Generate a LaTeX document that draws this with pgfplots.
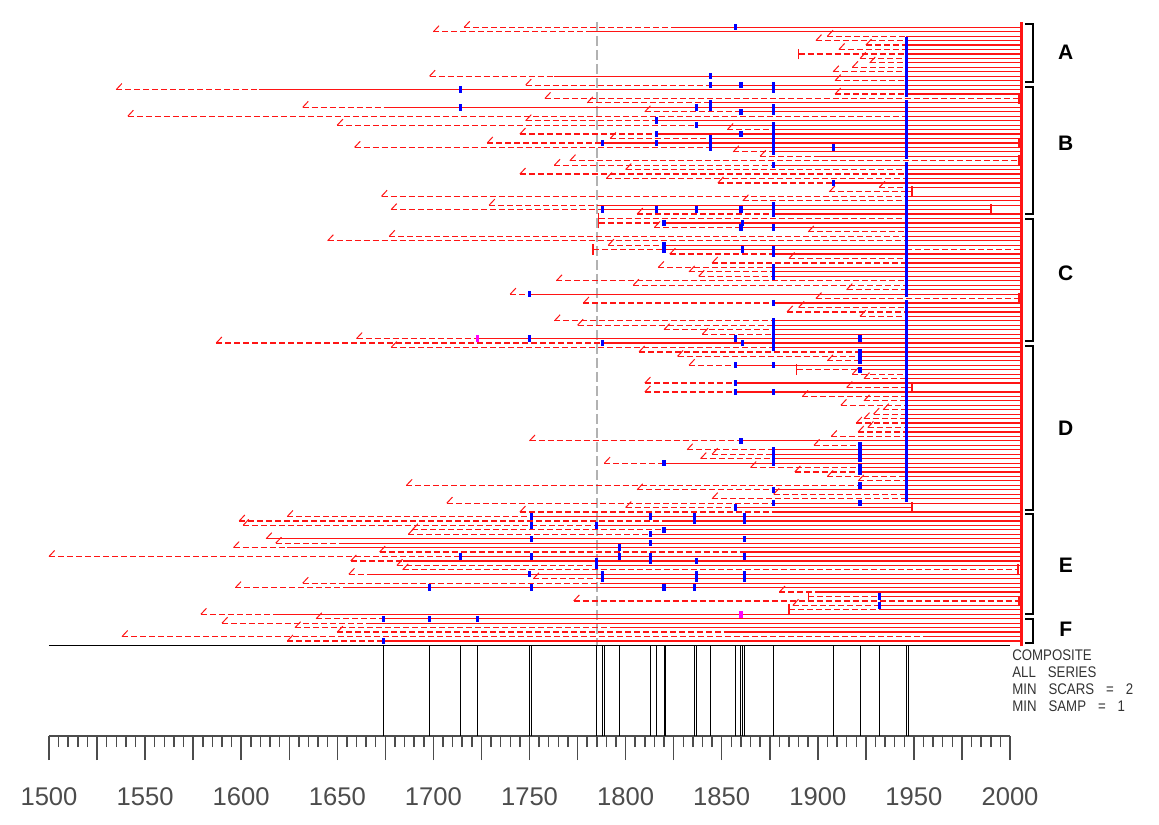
\documentclass[border=0pt]{standalone}
\usepackage{pgfplots}
\pgfplotsset{compat=1.18}
\usepackage{pgfplotstable}
\usepackage{graphicx}
\usepackage{fontspec}
\setmainfont{Liberation Sans}

\pgfdeclareplotmark{scar}{\pgfpathrectangle{\pgfpoint{-0.8pt}{-1.6pt}}{\pgfpoint{1.6pt}{3.2pt}}\pgfusepathqfill}
\pgfdeclareplotmark{innerring}{\pgfpathmoveto{\pgfpoint{0pt}{0pt}}\pgfpathlineto{\pgfpoint{2.8pt}{3pt}}\pgfusepathqstroke}
\pgfdeclareplotmark{vtick}{\pgfpathmoveto{\pgfpoint{0pt}{-2.7pt}}\pgfpathlineto{\pgfpoint{0pt}{2.7pt}}\pgfusepathqstroke}

\newcommand\ry{-(27.3+(\thisrow{r}-1)*4.447)}

\pgfplotstableread{
r s d e p b
1 1716 1826 2006 0 1
2 1700 1780 2006 0 1
3 1905 1946 2006 0 1
4 1899 1946 2006 0 1
5 1925 1946 2006 0 1
6 1911 1946 2006 0 1
7 1890 1946 2006 1 1
8 1922 1946 2006 0 1
9 1927 1946 2006 0 1
10 1918 1946 2006 0 1
11 1908 1946 2006 0 1
12 1698 1763 2006 0 1
13 1909 1946 2006 0 1
14 1748 1844 2006 0 1
15 1535 1609 2006 0 1
16 1909 1946 2006 0 1
17 1758 2005 2005 0 1
18 1780 1844 2006 0 1
19 1632 1677 2006 0 1
20 1810 1860 2006 0 1
21 1541 1946 2006 0 1
22 1748 1816 2006 0 1
23 1650 1837 2006 0 1
24 1853 1877 2006 0 1
25 1745 1816 2006 0 1
26 1792 1844 2006 0 1
27 1728 1788 2005 0 1
28 1659 1844 2006 0 1
29 1856 1877 2006 0 1
30 1870 1900 2006 0 1
31 1771 2005 2005 0 1
32 1763 1877 2006 0 1
33 1800 1946 2006 0 1
34 1745 1946 2006 0 1
35 1790 1946 2006 0 1
36 1848 1908 2006 0 1
37 1932 1946 2006 0 1
38 1906 1946 1949 0 1
39 1673 1946 2006 0 1
40 1861 1946 2006 0 1
41 1729 1785 2006 0 1
42 1678 1788 1990 0 1
43 1806 1877 2006 0 1
44 1786 1946 2006 1 1
45 1786 1820 2006 1 1
46 1815 1860 2006 0 1
47 1895 1946 2006 0 1
48 1677 1946 2006 0 1
49 1645 1946 2006 0 1
50 1791 1820 2006 0 1
51 1783 1820 1946 1 0
52 1823 1877 2006 0 1
53 1885 1946 2006 0 1
54 1845 1946 2006 0 1
55 1817 1877 2006 0 1
56 1833 1877 2006 0 1
57 1838 1877 2006 0 1
58 1764 1946 2006 0 1
59 1804 1946 2006 0 1
60 1915 1946 2006 0 1
61 1740 1750 2006 0 1
62 1899 2005 2005 0 1
63 1778 1877 2006 0 1
64 1890 1946 2006 0 1
65 1884 1946 2006 0 1
66 1922 1946 2006 0 1
67 1763 1877 2006 0 1
68 1775 1877 2006 0 1
69 1820 1877 2006 0 1
70 1840 1877 2006 0 1
71 1660 1723 2006 0 1
72 1587 1788 2006 0 1
73 1678 1877 2006 0 1
74 1807 1922 2006 0 1
75 1827 1922 2006 0 1
76 1905 1922 2006 0 1
77 1833 1857 2006 0 1
78 1889 1922 2006 1 1
79 1918 1946 2006 0 1
80 1924 1946 2006 0 1
81 1810 1857 2006 0 1
82 1915 1946 1949 0 1
83 1810 1857 2006 0 1
84 1892 1946 2006 0 1
85 1924 1946 2006 0 1
86 1912 1946 2006 0 1
87 1934 1946 2006 0 1
88 1929 1946 2006 0 1
89 1924 1946 2006 0 1
90 1920 1946 2006 0 1
91 1926 1946 2006 0 1
92 1921 1946 2006 0 1
93 1907 1946 2006 0 1
94 1750 1860 2006 0 1
95 1898 1922 2006 0 1
96 1832 1877 2006 0 1
97 1845 1877 2006 0 1
98 1839 1877 2006 0 1
99 1789 1820 2006 0 1
100 1865 1922 2006 0 1
101 1888 1922 2006 0 1
102 1905 1946 2006 0 1
103 1921 1946 2006 0 1
104 1686 1922 2006 0 1
105 1806 1877 2006 0 1
106 1877 1946 2006 0 1
107 1845 1946 2006 0 1
108 1707 1877 2006 0 1
109 1800 1857 1949 0 1
110 1745 1877 2006 0 1
111 1624 1751 2006 0 1
112 1599 1821 2006 0 1
113 1601 1785 2006 0 1
114 1689 1820 2006 0 1
115 1687 1813 2006 0 1
116 1613 1613 2006 0 1
117 1618 1654 2006 0 1
118 1596 1624 2006 0 1
119 1672 1862 2006 0 1
120 1500 1714 2006 0 1
121 1657 1684 2006 0 1
122 1681 1785 2006 0 1
123 1684 2004 2004 0 1
124 1656 1666 2006 0 1
125 1752 1788 2006 0 1
126 1632 1788 2006 0 1
127 1597 1653 2006 0 1
128 1880 1900 2006 0 1
129 1895 1932 2006 1 1
130 1773 2005 2005 0 1
131 1887 1932 2006 0 1
132 1885 1932 2006 1 1
133 1579 1617 2006 0 1
134 1639 1674 2006 0 1
135 1590 1665 2006 0 1
136 1628 1792 2006 0 1
137 1650 1851 2006 0 1
138 1538 1955 2006 0 1
139 1624 1674 2006 0 1
}\rows

\pgfplotstableread{
r s d
51 1946 2005
}\extra

\pgfplotstableread[row sep=\\]{
x r\\
1857 1\\ 1946 4\\ 1946 5\\ 1946 6\\ 1946 7\\ 1946 8\\ 1946 9\\ 1946 10\\ 1946 11\\ 1946 12\\ 1946 13\\ 1946 14\\ 1946 15\\ 1946 16\\
1844 12\\ 1844 14\\ 1860 14\\ 1877 14\\ 1714 15\\ 1877 15\\
1844 18\\ 1946 18\\ 1714 19\\ 1837 19\\ 1844 19\\ 1877 19\\ 1946 19\\
1860 20\\ 1877 20\\ 1946 20\\ 1946 21\\ 1816 22\\ 1946 22\\
1837 23\\ 1877 23\\ 1946 23\\ 1877 24\\ 1946 24\\
1816 25\\ 1860 25\\ 1877 25\\ 1946 25\\ 1844 26\\ 1877 26\\ 1946 26\\
1788 27\\ 1816 27\\ 1844 27\\ 1877 27\\ 1946 27\\
1844 28\\ 1877 28\\ 1908 28\\ 1946 28\\ 1877 29\\ 1946 29\\ 1946 30\\
1877 32\\ 1946 32\\ 1946 33\\ 1946 34\\ 1946 35\\ 1908 36\\ 1946 36\\
1946 37\\ 1946 38\\ 1946 39\\ 1946 40\\ 1877 41\\ 1946 41\\
1788 42\\ 1816 42\\ 1837 42\\ 1860 42\\ 1877 42\\ 1946 42\\
1877 43\\ 1946 43\\ 1946 44\\ 1820 45\\ 1861 45\\ 1946 45\\
1860 46\\ 1877 46\\ 1946 46\\ 1946 47\\ 1946 48\\ 1946 49\\
1820 50\\ 1946 50\\ 1820 51\\ 1861 51\\ 1877 51\\ 1946 51\\
1877 52\\ 1946 52\\ 1946 53\\ 1946 54\\ 1877 55\\ 1946 55\\
1877 56\\ 1946 56\\ 1877 57\\ 1946 57\\ 1946 58\\ 1946 59\\ 1946 60\\
1750 61\\ 1946 61\\ 1877 63\\ 1946 63\\ 1946 64\\ 1946 65\\ 1946 66\\
1877 67\\ 1946 67\\ 1877 68\\ 1946 68\\ 1877 69\\ 1946 69\\ 1877 70\\ 1946 70\\
1750 71\\ 1857 71\\ 1877 71\\ 1922 71\\ 1946 71\\
1788 72\\ 1861 72\\ 1877 72\\ 1946 72\\ 1877 73\\ 1946 73\\
1922 74\\ 1946 74\\ 1922 75\\ 1946 75\\ 1922 76\\ 1946 76\\
1857 77\\ 1877 77\\ 1946 77\\ 1922 78\\ 1946 78\\ 1946 79\\ 1946 80\\
1857 81\\ 1946 81\\ 1946 82\\ 1857 83\\ 1877 83\\ 1946 83\\
1946 84\\ 1946 85\\ 1946 86\\ 1946 87\\ 1946 88\\ 1946 89\\ 1946 90\\ 1946 91\\ 1946 92\\ 1946 93\\
1860 94\\ 1946 94\\ 1922 95\\ 1946 95\\
1877 96\\ 1922 96\\ 1946 96\\ 1877 97\\ 1922 97\\ 1946 97\\ 1877 98\\ 1922 98\\ 1946 98\\
1820 99\\ 1877 99\\ 1946 99\\ 1922 100\\ 1946 100\\ 1922 101\\ 1946 101\\
1946 102\\ 1946 103\\ 1922 104\\ 1946 104\\ 1877 105\\ 1946 105\\ 1946 106\\ 1946 107\\
1877 108\\ 1922 108\\ 1857 109\\
1751 111\\ 1813 111\\ 1836 111\\ 1862 111\\ 1836 112\\ 1862 112\\
1751 113\\ 1785 113\\ 1820 114\\ 1813 115\\ 1751 116\\ 1862 116\\ 1813 117\\ 1797 118\\
1714 120\\ 1751 120\\ 1797 120\\ 1813 120\\ 1862 120\\
1785 121\\ 1813 121\\ 1837 121\\ 1785 122\\
1750 124\\ 1788 124\\ 1837 124\\ 1862 124\\ 1788 125\\ 1837 125\\ 1862 125\\
1698 127\\ 1751 127\\ 1820 127\\ 1836 127\\ 1932 129\\ 1932 131\\
1674 134\\ 1698 134\\ 1723 134\\ 1674 139\\
}\scars

\pgfplotstableread[row sep=\\]{
x r\\ 1723 71\\ 1860 133\\
}\mscars

\pgfplotstableread[row sep=\\]{
x y\\ 1674 -645.5\\ 1698 -645.5\\ 1714 -645.5\\ 1723 -645.5\\ 1750 -645.5\\ 1751 -645.5\\ 1785 -645.5\\ 1788 -645.5\\ 1789 -645.5\\ 1797 -645.5\\ 1813 -645.5\\ 1816 -645.5\\ 1820 -645.5\\ 1821 -645.5\\ 1836 -645.5\\ 1837 -645.5\\ 1844 -645.5\\ 1857 -645.5\\ 1860 -645.5\\ 1861 -645.5\\ 1862 -645.5\\ 1877 -645.5\\ 1908 -645.5\\ 1922 -645.5\\ 1932 -645.5\\ 1946 -645.5\\ 1947 -645.5\\
}\comp

\definecolor{fhred}{RGB}{255,20,20}
\definecolor{fhblue}{RGB}{0,0,255}
\definecolor{fhmag}{RGB}{255,0,255}

\begin{document}
\begin{tikzpicture}
\begin{axis}[name=main,
  x=0.961pt, y=0.5pt,
  xmin=1500, xmax=2000, ymin=-736, ymax=-20,
  clip=false,
  axis x line=bottom, axis y line=none,
  axis line style={-, black!70, line width=0.75pt},
  xtick={1500,1525,...,2000},
  xticklabels={1500,,1550,,1600,,1650,,1700,,1750,,1800,,1850,,1900,,1950,,2000},
  minor x tick num=4,
  tick align=outside,
  major tick length=12pt, minor tick length=5.6pt,
  every tick/.style={black!70, line width=0.75pt},
  xticklabel style={font=\fontsize{12.8}{15}\selectfont, text=black!70, yshift=-10.3pt},
  ytick=\empty,
]
% gray reference line
\addplot[gray!60, line width=1pt, dash pattern=on 5pt off 2pt] coordinates {(1785,-22) (1785,-645)};
% non-recording (dashed) segments
\addplot[fhred, line width=0.6pt, dash pattern=on 3pt off 1.5pt, no markers,
  quiver={u=\thisrow{d}-\thisrow{s}, v=0}] table[x=s, y expr=\ry]{\rows};
\addplot[fhred, line width=0.6pt, dash pattern=on 3pt off 1.5pt, no markers,
  quiver={u=\thisrow{d}-\thisrow{s}, v=0}] table[x=s, y expr=\ry]{\extra};
% recording (solid) segments
\addplot[fhred, line width=0.6pt, no markers,
  quiver={u=\thisrow{e}-\thisrow{d}, v=0}] table[x=d, y expr=\ry]{\rows};
% inner ring and pith symbols
\addplot[fhred, line width=0.5pt, only marks, mark=innerring, restrict x to domain=1400:2100]
  table[x expr={\thisrow{s}+10000*\thisrow{p}}, y expr=\ry]{\rows};
\addplot[fhred, line width=0.7pt, only marks, mark=vtick, restrict x to domain=1400:2100]
  table[x expr={\thisrow{s}+10000*(1-\thisrow{p})}, y expr=\ry]{\rows};
% bark
\addplot[fhred, line width=1.2pt, only marks, mark=vtick, restrict x to domain=1400:2100]
  table[x expr={\thisrow{e}+10000*(1-\thisrow{b})}, y expr=\ry]{\rows};
% fire scars
\addplot[fhblue, only marks, mark=scar] table[x=x, y expr=\ry]{\scars};
\addplot[fhmag, only marks, mark=scar] table[x=x, y expr=\ry]{\mscars};
% composite
\addplot[black, line width=0.6pt] coordinates {(1500,-645.5) (2000,-645.5)};
\addplot[black, line width=0.5pt, no markers, quiver={u=0, v=-90.5}] table[x=x, y=y]{\comp};
% brackets
\addplot[black, line width=1pt] coordinates {(2008,-24) (2012,-24) (2012,-82) (2008,-82)};
\addplot[black, line width=1pt] coordinates {(2008,-87) (2012,-87) (2012,-214) (2008,-214)};
\addplot[black, line width=1pt] coordinates {(2008,-219) (2012,-219) (2012,-341) (2008,-341)};
\addplot[black, line width=1pt] coordinates {(2008,-346) (2012,-346) (2012,-510) (2008,-510)};
\addplot[black, line width=1pt] coordinates {(2008,-514) (2012,-514) (2012,-614) (2008,-614)};
\addplot[black, line width=1pt] coordinates {(2008,-619) (2012,-619) (2012,-643) (2008,-643)};
\begin{scope}[every node/.style={font=\bfseries\fontsize{10.5}{12}\selectfont}]
\node at (axis cs:2029,-52) {A};
\node at (axis cs:2029,-143) {B};
\node at (axis cs:2029,-273) {C};
\node at (axis cs:2029,-428) {D};
\node at (axis cs:2029,-565) {E};
\node at (axis cs:2029,-629) {F};
\end{scope}
\begin{scope}[every node/.style={anchor=west, inner sep=0pt, text=black!80, font=\fontsize{7.7}{9}\selectfont}]
\node at (axis cs:2001,-655) {\scalebox{0.86}[1]{COMPOSITE}};
\node at (axis cs:2001,-672) {\scalebox{0.86}[1]{ALL\hspace{4.8pt} SERIES}};
\node at (axis cs:2001,-689) {\scalebox{0.86}[1]{MIN\hspace{4.8pt} SCARS\hspace{4.8pt} =\hspace{4.8pt} 2}};
\node at (axis cs:2001,-706) {\scalebox{0.86}[1]{MIN\hspace{4.8pt} SAMP\hspace{4.8pt} =\hspace{4.8pt} 1}};
\end{scope}
\end{axis}
\pgfresetboundingbox
\path ([shift={(-24.5pt,-44pt)}]main.south west) rectangle ([shift={(74.5pt,10pt)}]main.north east);
\end{tikzpicture}
\end{document}
